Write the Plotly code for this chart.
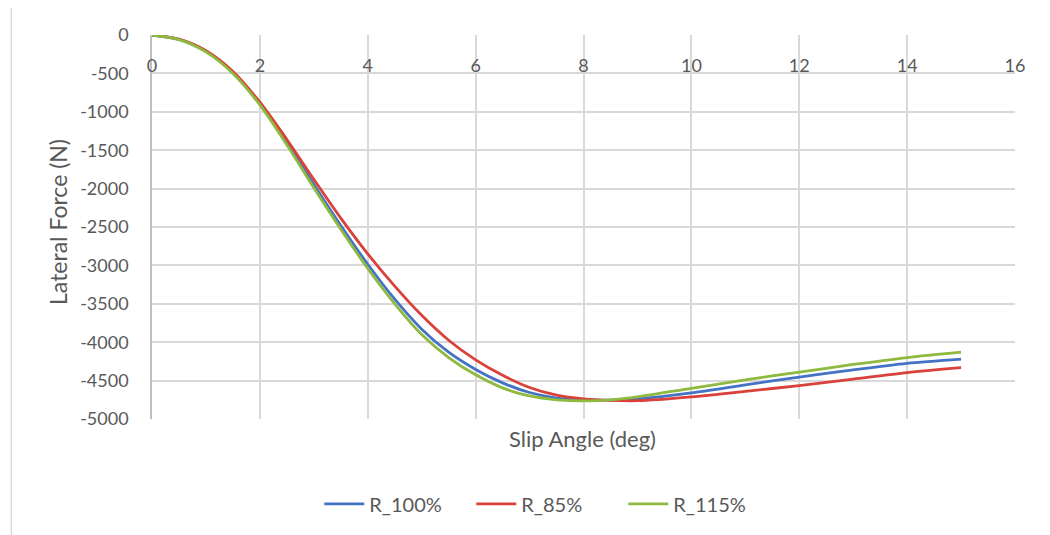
import plotly.graph_objects as go

slip_angle = [0, 0.5, 1, 1.5, 2, 2.5, 3, 3.5, 4, 4.5, 5, 5.5, 6, 6.5, 7, 7.5, 8, 8.5, 9, 10, 11, 12, 13, 14, 15]

r_100 = [0, -58, -212, -488, -895, -1400, -1945, -2480, -2985, -3440, -3830, -4130, -4355, -4530, -4655, -4727, -4752, -4753, -4737, -4660, -4555, -4455, -4360, -4275, -4220]
r_85 = [0, -55, -205, -475, -875, -1360, -1880, -2385, -2850, -3270, -3650, -3975, -4230, -4430, -4590, -4690, -4738, -4758, -4762, -4712, -4640, -4565, -4480, -4395, -4330]
r_115 = [0, -60, -220, -500, -910, -1430, -1990, -2530, -3040, -3500, -3900, -4200, -4425, -4595, -4700, -4750, -4765, -4750, -4712, -4600, -4490, -4390, -4290, -4200, -4130]

series_names = ["R_100%", "R_85%", "R_115%"]
series_colors = ["#4472C4", "#D9413A", "#8DBA3F"]

x_ticks = [0, 2, 4, 6, 8, 10, 12, 14, 16]
x_ticktext = ["0", "2", "4", "6", "8", "10", "12", "14", "16"]
y_ticks = [0, -500, -1000, -1500, -2000, -2500, -3000, -3500, -4000, -4500, -5000]
y_ticktext = ["0", "-500", "-1000", "-1500", "-2000", "-2500", "-3000", "-3500", "-4000", "-4500", "-5000"]

FONT = "Lato, 'Open Sans', sans-serif"
GRAY = "#595959"
GRID = "#D9D9D9"
CLEAR = "rgba(0,0,0,0)"

fig = go.Figure()
for name, vals, col in zip(series_names, [r_100, r_85, r_115], series_colors):
    fig.add_trace(go.Scatter(x=slip_angle, y=vals, mode="lines", name=name,
                             line=dict(color=col, width=2.8, shape="spline", smoothing=0.8)))

fig.update_layout(
    width=1042, height=527,
    margin=dict(l=144, r=35, t=27, b=116, autoexpand=False),
    paper_bgcolor="white", plot_bgcolor="white",
    font=dict(family=FONT, color=GRAY, size=18),
    showlegend=True,
    legend=dict(orientation="h", x=0.458, xanchor="center", y=-0.221, yanchor="middle",
                font=dict(size=20, color=GRAY), itemwidth=40, entrywidth=97),
    xaxis=dict(range=[0, 16], tickvals=x_ticks, ticktext=x_ticktext,
               anchor="free", position=1, side="bottom",
               ticks="outside", ticklen=14, tickcolor=CLEAR,
               showgrid=True, gridcolor=GRID, gridwidth=1.5,
               showline=False, zeroline=False, automargin=False,
               tickfont=dict(size=18, color=GRAY)),
    yaxis=dict(range=[-5000, 0], tickvals=y_ticks, ticktext=y_ticktext,
               ticks="outside", ticklen=18, tickcolor=CLEAR, showgrid=True,
               gridcolor=GRID, gridwidth=1.5, showline=True, linecolor="#BFBFBF",
               linewidth=1.5, zeroline=False, automargin=False,
               tickfont=dict(size=18, color=GRAY)),
)

fig.add_annotation(text="Slip Angle (deg)", xref="paper", yref="paper", x=0.499, y=-0.05,
                   xanchor="center", yanchor="middle", showarrow=False,
                   font=dict(size=22, color=GRAY, family=FONT))
fig.add_annotation(text="Lateral Force (N)", xref="paper", yref="paper", x=-0.1097, y=0.514,
                   xanchor="center", yanchor="middle", showarrow=False, textangle=-90,
                   font=dict(size=23, color=GRAY, family=FONT))

fig.add_shape(type="line", xref="paper", yref="paper", x0=-0.163, x1=1.1, y0=1.073, y1=1.073,
              line=dict(color=GRID, width=1.5))
fig.add_shape(type="line", xref="paper", yref="paper", x0=-0.163, x1=-0.163, y0=-0.32, y1=1.073,
              line=dict(color=GRID, width=1.5))

fig.write_html("out.html")
